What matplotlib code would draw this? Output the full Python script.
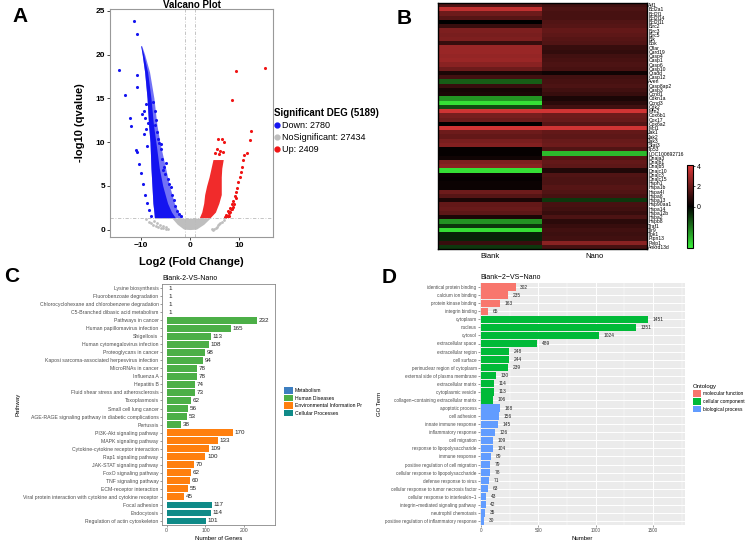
import numpy as np
import matplotlib
matplotlib.use('Agg')
from matplotlib import pyplot as plt
from matplotlib.colors import LinearSegmentedColormap, TwoSlopeNorm
from matplotlib.patches import Patch
from matplotlib.lines import Line2D

plt.rcParams['font.family'] = ['Liberation Sans', 'DejaVu Sans']

# ---------------- A: volcano ----------------
# down-regulated cloud: outer edges and the dense core (by -log10 q)
dn_y = [1.35, 2, 3, 5, 7, 10, 12, 15, 18, 20, 21]
dn_left = [-7.3, -7.4, -7.6, -7.8, -8.0, -8.2, -8.5, -8.8, -9.3, -9.8, -10.1]
dn_right = [-1.5, -2.4, -3.2, -4.2, -5.0, -6.2, -6.8, -7.4, -8.3, -9.3, -9.9]
dn_core = [-3.0, -3.8, -4.6, -5.6, -6.3, -7.0, -7.5, -8.0, -8.7, -9.5, -10.0]
# single down points
dn_px = [-14.6, -13.3, -12.4, -12.0, -11.4, -10.8, -10.8, -10.9, -11.0, -10.9, -10.4, -10.1,
         -9.7, -9.3, -8.9, -8.5, -8.0, -9.5, -9.2, -9.8, -9.0, -9.4, -8.8, -9.1, -8.7,
         -6.6, -6.0, -5.8, -5.3, -5.6, -4.6, -4.0, -3.6, -3.3, -3.0, -2.6, -7.0, -6.8,
         -7.1, -6.4, -5.1, -4.4, -7.5, -7.2, -2.2, -1.8, -4.9, -5.9]
dn_py = [18.2, 15.4, 12.7, 11.8, 23.8, 22.4, 17.7, 16.3, 9.1, 8.9, 7.5, 6.5,
         5.2, 4.0, 3.0, 2.2, 1.5, 13.5, 12.8, 13.2, 11.5, 10.9, 9.5, 14.4, 12.2,
         10.4, 9.2, 8.1, 7.2, 6.8, 5.8, 4.9, 4.0, 3.4, 2.7, 2.1, 12.5, 11.2,
         13.6, 9.9, 6.4, 5.2, 14.6, 12.0, 1.8, 1.5, 7.6, 9.8]

up_y = [1.35, 2, 3, 4, 5, 6, 7, 8]
up_left = [1.9, 2.4, 2.8, 3.0, 3.4, 3.9, 4.3, 4.7]
up_right = [4.1, 5.2, 5.9, 6.4, 6.4, 6.4, 6.5, 6.8]
up_px = [7.1, 7.4, 7.8, 8.2, 8.6, 8.9, 9.2, 9.5, 9.7, 9.9, 10.2, 10.4, 10.6, 10.9, 11.1,
         11.7, 12.2, 12.5, 7.6, 8.0, 8.4, 8.0, 8.6, 9.0, 9.4, 5.7, 6.6, 6.9, 5.5, 6.2,
         6.8, 5.2, 6.0, 9.5, 8.6, 15.3, 7.3, 7.7, 8.2, 8.8]
up_py = [1.4, 1.7, 2.1, 2.5, 2.9, 3.3, 3.8, 4.3, 4.8, 5.4, 6.0, 6.6, 7.2, 7.9, 8.5,
         8.7, 10.2, 11.3, 1.5, 1.9, 2.3, 1.6, 2.4, 2.9, 3.6, 10.3, 10.4, 10.0, 9.2, 9.0,
         8.9, 8.8, 8.6, 18.1, 14.8, 18.5, 1.5, 1.6, 2.0, 2.6]

ns_x = [-3.7, -2.6, -1.3, 0, 1.3, 2.8, 4.1]
ns_lo = [1.3, 0.6, 0.05, 0, 0.05, 0.6, 1.3]
ns_hi = [1.3, 1.3, 1.3, 1.3, 1.3, 1.3, 1.3]
ns_px = [-9.0, -8.5, -8.0, -7.5, -7.0, -6.5, -6.0, -5.5, -5.0, -4.5, -7.4, -6.8, -6.2,
         -5.6, -5.0, 4.5, 5.0, 5.5, 5.8, 6.2, 6.6, 7.0, 4.8, 5.3, 6.0]
ns_py = [1.2, 0.9, 0.7, 0.5, 0.4, 0.3, 0.2, 0.15, 0.1, 0.05, 1.0, 0.7, 0.5,
         0.4, 0.3, 0.05, 0.1, 0.3, 0.5, 0.7, 0.9, 1.1, 0.0, 0.2, 0.6]

deg_labels = ['Down: 2780', 'NoSignificant: 27434', 'Up: 2409']

# ---------------- B: heatmap ----------------
genes = ['Aif1', 'Bcl2a1', 'Bcl2l1', 'Bcl2l14', 'Bcl2l11', 'Birc2', 'Birc3', 'Birc5', 'Bik', 'Bok',
         'Cflar', 'Card19', 'Casp4', 'Casp1', 'Casp6', 'Casp10', 'Cradd', 'Casp12', 'Aven',
         'Casp8ap2', 'Casp3', 'Ccnd1', 'Cdkn1a', 'Ccnd3', 'Cdk2', 'Mfn2', 'Cox6b1', 'Cox17',
         'Cox6a2', 'Mcl1', 'Jak1', 'Jak2', 'Jak3', 'Stat3', 'Tp53', 'LOC100692716', 'Dnaja3',
         'Dnajb1', 'Dnajb5', 'Dnajc10', 'Dnajc3', 'Dnajc15', 'Hsph1', 'Hspa1b', 'Hspa4l',
         'Hspa8', 'Hspa13', 'Hsp90aa1', 'Hspa14', 'Hspa12b', 'Hspa2', 'Hspb8', 'Traf1', 'Tlr9',
         'Tbk1', 'Ptpn13', 'Pelp1', 'Ankrd13d']
blank = [1.5, 3.5, 2.0, 1.6, 0.0, 1.0, 2.3, 2.2, 2.3, 1.0,
         2.8, 2.8, 2.7, 2.8, 2.5, 2.0, 0.5, 1.2, -0.5, 1.0,
         0.4, 0.5, -0.8, -1.2, -0.4, 3.8, 2.2, 2.0, 0.0, 3.8,
         2.0, 1.8, 2.2, 2.4, 0.1, 0.1, 0.3, 2.3, 2.5, -1.2,
         0.2, 0.1, 0.2, 0.2, 2.0, 1.6, 0.5, 1.8, 1.9, 1.7,
         0.5, -0.8, -0.3, -1.2, -0.2, -0.2, 1.0, -0.3]
nano = [1.2, 1.4, 1.3, 1.3, 1.5, 1.6, 1.8, 1.7, 1.6, 1.5,
        1.0, 0.9, 1.2, 1.3, 1.4, 1.3, 0.3, 1.2, 1.3, 1.4,
        1.2, 1.0, 0.5, 0.8, 1.2, 3.8, 2.0, 1.9, 1.6, 3.8,
        1.8, 1.7, 1.9, 2.0, 1.5, -1.0, 1.6, 1.8, 1.7, 0.6,
        1.5, 1.4, 1.4, 1.6, 1.5, 1.3, -0.3, 1.3, 1.2, 1.0,
        1.4, 0.8, 1.0, 1.2, 1.1, 1.2, 2.5, 1.3]
samples = ['Blank', 'Nano']

# ---------------- C: KEGG ----------------
kegg_terms = ['Lysine biosynthesis', 'Fluorobenzoate degradation',
              'Chlorocyclohexane and chlorobenzene degradation', 'C5-Branched dibasic acid metabolism',
              'Pathways in cancer', 'Human papillomavirus infection', 'Shigellosis',
              'Human cytomegalovirus infection', 'Proteoglycans in cancer',
              'Kaposi sarcoma-associated herpesvirus infection', 'MicroRNAs in cancer', 'Influenza A',
              'Hepatitis B', 'Fluid shear stress and atherosclerosis', 'Toxoplasmosis',
              'Small cell lung cancer', 'AGE-RAGE signaling pathway in diabetic complications',
              'Pertussis', 'PI3K-Akt signaling pathway', 'MAPK signaling pathway',
              'Cytokine-cytokine receptor interaction', 'Rap1 signaling pathway',
              'JAK-STAT signaling pathway', 'FoxO signaling pathway', 'TNF signaling pathway',
              'ECM-receptor interaction', 'Viral protein interaction with cytokine and cytokine receptor',
              'Focal adhesion', 'Endocytosis', 'Regulation of actin cytoskeleton']
kegg_counts = [1, 1, 1, 1, 232, 165, 113, 108, 98, 94, 78, 78, 74, 73, 62, 56, 53, 38,
               170, 133, 109, 100, 70, 62, 60, 55, 45, 117, 114, 101]
kegg_class = ['M'] * 4 + ['HD'] * 14 + ['EIP'] * 9 + ['CP'] * 3
kegg_colors = {'M': '#3D7EC0', 'HD': '#4CAF47', 'EIP': '#FF7F0E', 'CP': '#0F8A88'}
kegg_names = {'M': 'Metabolism', 'HD': 'Human Diseases',
              'EIP': 'Environmental Information Pr', 'CP': 'Cellular Processes'}

# ---------------- D: GO ----------------
go_terms = ['identical protein binding', 'calcium ion binding', 'protein kinase binding',
            'integrin binding', 'cytoplasm', 'nucleus', 'cytosol', 'extracellular space',
            'extracellular region', 'cell surface', 'perinuclear region of cytoplasm',
            'external side of plasma membrane', 'extracellular matrix', 'cytoplasmic vesicle',
            'collagen\u2212containing extracellular matrix', 'apoptotic process', 'cell adhesion',
            'innate immune response', 'inflammatory response', 'cell migration',
            'response to lipopolysaccharide', 'immune response', 'positive regulation of cell migration',
            'cellular response to lipopolysaccharide', 'defense response to virus',
            'cellular response to tumor necrosis factor', 'cellular response to interleukin\u22121',
            'integrin\u2212mediated signaling pathway', 'neutrophil chemotaxis',
            'positive regulation of inflammatory response']
go_counts = [302, 235, 163, 65, 1451, 1351, 1024, 489, 248, 244, 239, 130, 114, 113, 106,
             168, 156, 145, 126, 109, 104, 89, 79, 78, 71, 63, 43, 42, 35, 30]
go_class = ['MF'] * 4 + ['CC'] * 11 + ['BP'] * 15
go_colors = {'MF': '#F8766D', 'CC': '#00BA38', 'BP': '#619CFF'}
go_names = {'MF': 'molecular function', 'CC': 'cellular component', 'BP': 'biological process'}

W, H = 747, 541
fig = plt.figure(figsize=(W / 100, H / 100), dpi=100)


def box(x0, y0, x1, y1):
    # axes placed by pixel corners (top-left origin)
    return fig.add_axes([x0 / W, 1 - y1 / H, (x1 - x0) / W, (y1 - y0) / H])


# ---- A ----
ax = box(110, 9, 273, 237)
ax.fill_between(ns_x, ns_lo, ns_hi, color='#BEBEBE', lw=0)
ax.scatter(ns_px, ns_py, s=4, c='#BEBEBE', lw=0)
ax.fill_betweenx(dn_y, dn_left, dn_right, color='#1414F0', lw=0, alpha=0.6)
ax.fill_betweenx(dn_y, dn_left, dn_core, color='#1414F0', lw=0)
ax.scatter(dn_px, dn_py, s=5, c='#1414F0', lw=0)
ax.fill_betweenx(up_y, up_left, up_right, color='#F01414', lw=0, alpha=0.9)
ax.scatter(up_px, up_py, s=5, c='#F01414', lw=0)
for xv in (-1, 1):
    ax.axvline(xv, color='#BBBBBB', lw=0.6, ls=(0, (4, 2, 1, 2)))
ax.axhline(1.3, color='#BBBBBB', lw=0.6, ls=(0, (4, 2, 1, 2)))
ax.set_xlim(-16.4, 17)
ax.set_ylim(-0.85, 25.2)
ax.set_xticks([-10, 0, 10])
ax.set_yticks([0, 5, 10, 15, 20, 25])
ax.tick_params(labelsize=6, length=2, width=0.5, pad=1.5)
for t in ax.get_xticklabels() + ax.get_yticklabels():
    t.set_fontweight('bold')
for s in ax.spines.values():
    s.set_color('#999999')
    s.set_linewidth(0.8)
ax.set_title('Valcano Plot', fontsize=7, fontweight='bold', y=1.0, pad=0.5)
ax.set_xlabel('Log2 (Fold Change)', fontsize=8, fontweight='bold', labelpad=6)
ax.set_ylabel('-log10 (qvalue)', fontsize=8, fontweight='bold', labelpad=8)
h_deg = [Line2D([], [], ls='', marker='o', ms=3.5, color=c) for c in ('#1414F0', '#BEBEBE', '#F01414')]
fig.legend(h_deg, deg_labels, loc='upper left', bbox_to_anchor=(274 / W, 1 - 108 / H),
           frameon=False, fontsize=6.5, title='Significant DEG (5189)',
           title_fontproperties={'weight': 'bold', 'size': 7}, alignment='left',
           handlelength=0.6, handletextpad=0.3, labelspacing=0.35, borderpad=0, borderaxespad=0)

# ---- B ----
cmap = LinearSegmentedColormap.from_list('gbr', ['#3AF03A', '#000000', '#E03838'])
norm = TwoSlopeNorm(vcenter=0, vmin=-1.3, vmax=4.1)
hm = box(438, 3, 647, 249)
im = hm.imshow(np.array([blank, nano]).T, cmap=cmap, norm=norm, aspect='auto',
               interpolation='nearest')
hm.set_yticks(range(len(genes)))
hm.set_yticklabels(genes, fontsize=3.6)
hm.yaxis.tick_right()
hm.set_xticks([0, 1])
hm.set_xticklabels(samples, fontsize=5.5)
hm.tick_params(length=0, pad=1)
hm.tick_params(axis='x', pad=3)
for s in hm.spines.values():
    s.set_linewidth(1.0)
cax = box(687, 165, 693, 248)
cb = fig.colorbar(im, cax=cax, ticks=[0, 2, 4])
cb.ax.tick_params(labelsize=5, length=1.5, width=0.5, pad=1)
cb.outline.set_linewidth(0.8)

# ---- C ----
axc = box(162, 284, 275, 525)
yc = np.arange(len(kegg_terms))
axc.barh(yc, kegg_counts, height=0.85, color=[kegg_colors[c] for c in kegg_class])
for yi, v in zip(yc, kegg_counts):
    axc.text(v + 4, yi, str(v), va='center', ha='left', fontsize=4.5, color='#222222')
axc.set_ylim(len(kegg_terms) - 0.5, -0.5)
axc.set_xlim(-12, 279)
axc.set_xticks([0, 100, 200])
axc.set_yticks(yc)
axc.set_yticklabels(kegg_terms)
axc.tick_params(labelsize=3.7, length=1.5, width=0.4, pad=1, colors='#4D4D4D')
for s in axc.spines.values():
    s.set_color('#888888')
    s.set_linewidth(0.6)
axc.set_title('Blank-2-VS-Nano', fontsize=5, loc='left', pad=3)
axc.set_xlabel('Number of Genes', fontsize=4.3, labelpad=2)
axc.set_ylabel('Pathway', fontsize=4.3, labelpad=2)
h_k = [Patch(facecolor=kegg_colors[k]) for k in kegg_names]
fig.legend(h_k, list(kegg_names.values()), loc='upper left', bbox_to_anchor=(284 / W, 1 - 387 / H),
           frameon=False, fontsize=3.7, handlelength=1.75, handleheight=1.6,
           handletextpad=0.35, labelspacing=0.2, borderpad=0, borderaxespad=0)

# ---- D ----
axd = box(480, 283, 685, 525)
axd.set_facecolor('#EBEBEB')
yd = np.arange(len(go_terms))
axd.barh(yd, go_counts, height=0.9, color=[go_colors[c] for c in go_class], zorder=3)
for yi, v in zip(yd, go_counts):
    axd.text(v + 40, yi, str(v), va='center', ha='left', fontsize=3.5, color='#222222', zorder=4)
axd.set_ylim(len(go_terms) - 0.5, -0.5)
axd.set_xlim(-8, 1777)
axd.set_xticks([0, 500, 1000, 1500])
axd.set_xticks([250, 750, 1250, 1750], minor=True)
axd.set_yticks(yd)
axd.set_yticklabels(go_terms)
axd.grid(True, which='major', color='white', lw=0.7, zorder=0)
axd.grid(True, which='minor', axis='x', color='white', lw=0.35, zorder=0)
axd.tick_params(labelsize=3.3, length=1.5, width=0.4, pad=1, colors='#4D4D4D')
axd.tick_params(which='minor', length=0)
for s in axd.spines.values():
    s.set_visible(False)
axd.set_title('Blank\u22122\u2212VS\u2212Nano', fontsize=5, loc='left', pad=3)
axd.set_xlabel('Number', fontsize=4.3, labelpad=2)
axd.set_ylabel('GO Term', fontsize=4.3, labelpad=2)
h_g = [Patch(facecolor=go_colors[k]) for k in go_names]
fig.legend(h_g, list(go_names.values()), loc='upper left', bbox_to_anchor=(693 / W, 1 - 384 / H),
           frameon=False, fontsize=3.5, title='Ontology', title_fontsize=4.3, alignment='left',
           handlelength=1.7, handleheight=1.7, handletextpad=0.4, labelspacing=0.25,
           borderpad=0, borderaxespad=0)

# panel letters
for lab, x, y in [('A', 12, 22), ('B', 397, 24), ('C', 4, 282), ('D', 382, 283)]:
    fig.text(x / W, 1 - y / H, lab, fontsize=15, fontweight='bold', va='baseline')

fig.savefig('out.png', dpi=100)
